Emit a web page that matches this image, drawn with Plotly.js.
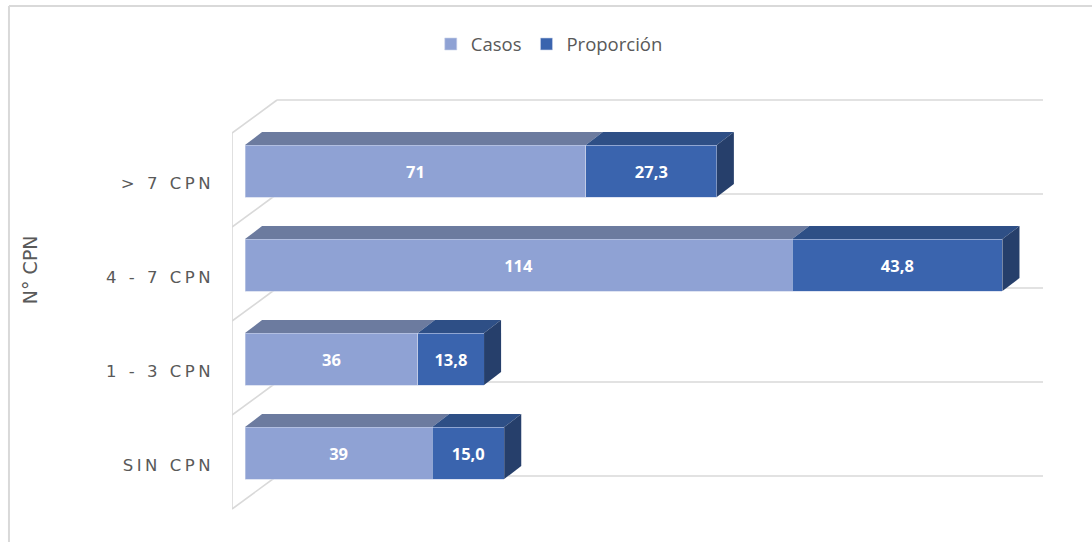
<!DOCTYPE html>
<html>
<head>
<meta charset="utf-8">
<script src="https://cdn.plot.ly/plotly-3.0.1.min.js"></script>
<style>
html,body{margin:0;padding:0;background:#fff;}
#chart{width:1092px;height:542px;}
.ytick text{letter-spacing:3.5px;}
</style>
</head>
<body>
<div id="chart"></div>
<script>
// ---- data (bottom-to-top order) ----
const categories = ["SIN CPN", "1 - 3 CPN", "4 - 7 CPN", "> 7 CPN"];
const casos = [39, 36, 114, 71];
const proporcion = [15.0, 13.8, 43.8, 27.3];
const seriesNames = ["Casos", "Proporción"];
const axisTitle = "N° CPN";

// ---- style constants ----
const colCasos = "#8FA2D4", colCasosTop = "#6C7B9F";
const colProp = "#3A64AE", colPropTop = "#2E4F86", colPropSide = "#263F6B";
const gridCol = "#D9D9D9";
const idx = categories.map((_, i) => i);

const barW = 0.553, barOff = -0.149;     // bar thickness / offset (y units)
const depthX = 3.55, depthY = 0.138;     // 3-D depth in axis units
const xMin = -2.71, xMax = 166.25;
const yMin = -0.585, yMax = 4.096;

const shapes = [];
function poly(pts, color) {
  const p = pts.map((q, k) => (k ? "L" : "M") + q[0] + "," + q[1]).join(" ") + " Z";
  shapes.push({type: "path", xref: "x", yref: "y", path: p, fillcolor: color,
               line: {width: 0}, layer: "above"});
}
function line(x0, y0, x1, y1) {
  shapes.push({type: "line", xref: "x", yref: "y", x0, y0, x1, y1,
               line: {color: gridCol, width: 1.6}, layer: "below"});
}

// 3-D walls / gridlines at category boundaries
const frontShift = 0.032, backShift = 0.383, backX = 6.67;
for (let k = 0; k <= categories.length; k++) {
  const yf = k - 0.5 + frontShift, yb = k - 0.5 + backShift;
  line(backX, yb, xMax, yb);
  line(xMin, yf, backX, yb);
}
line(xMin, -0.5 + frontShift, xMin, categories.length - 0.5 + frontShift);

// 3-D faces derived from the data
idx.forEach(i => {
  const yt = i + barOff + barW, yb = i + barOff;
  const c = casos[i], t = casos[i] + proporcion[i];
  poly([[0, yt], [c, yt], [c + depthX, yt + depthY], [depthX, yt + depthY]], colCasosTop);
  poly([[c, yt], [t, yt], [t + depthX, yt + depthY], [c + depthX, yt + depthY]], colPropTop);
  poly([[t, yt], [t, yb], [t + depthX, yb + depthY], [t + depthX, yt + depthY]], colPropSide);
});

// outer chart border (top/left)
shapes.push({type: "line", xref: "paper", yref: "paper", x0: -0.275, x1: 1.07, y0: 1.168, y1: 1.168,
             line: {color: gridCol, width: 2}});
shapes.push({type: "line", xref: "paper", yref: "paper", x0: -0.275, x1: -0.275, y0: 1.168, y1: -0.06,
             line: {color: gridCol, width: 2}});

const textFont = {family: "Open Sans, DejaVu Sans, sans-serif", size: 16.5, color: "#FFFFFF", weight: 700};

const traces = [
  {type: "bar", orientation: "h", name: seriesNames[0], x: casos, y: idx,
   width: barW, offset: barOff,
   marker: {color: colCasos, line: {color: "#C9D2EA", width: 0.6}},
   text: casos.map(v => String(v)), textposition: "inside", insidetextanchor: "middle",
   textfont: textFont, hoverinfo: "skip", cliponaxis: false},
  {type: "bar", orientation: "h", name: seriesNames[1], x: proporcion, y: idx,
   width: barW, offset: barOff,
   marker: {color: colProp, line: {color: "#C9D2EA", width: 0.6}},
   text: proporcion.map(v => v.toFixed(1).replace(".", ",")), textposition: "inside",
   insidetextanchor: "middle",
   textfont: textFont, hoverinfo: "skip", cliponaxis: false}
];

const layout = {
  width: 1092, height: 542,
  margin: {l: 232, r: 49, t: 80, b: 22},
  paper_bgcolor: "#FFFFFF", plot_bgcolor: "rgba(0,0,0,0)",
  barmode: "stack",
  showlegend: true,
  legend: {orientation: "h", xref: "container", yref: "container", x: 0.503, xanchor: "center",
           y: 0.918, yanchor: "middle",
           font: {family: "Open Sans, sans-serif", size: 18.5, color: "#595959"},
           traceorder: "normal", itemwidth: 30},
  xaxis: {range: [xMin, xMax], visible: false, showgrid: false, zeroline: false, fixedrange: true},
  yaxis: {range: [yMin, yMax], tickmode: "array", tickvals: idx, ticktext: categories,
          showgrid: false, zeroline: false, showline: false, ticks: "",
          ticklabelstandoff: 17,
          tickfont: {family: "DejaVu Sans, sans-serif", size: 16.5, color: "#595959"},
          fixedrange: true},
  annotations: [{text: axisTitle, textangle: -90, xref: "paper", yref: "paper",
                 x: -0.249, y: 0.568, xanchor: "center", yanchor: "middle", showarrow: false,
                 font: {family: "DejaVu Sans, sans-serif", size: 19, color: "#595959"}}],
  shapes: shapes
};

Plotly.newPlot("chart", traces, layout, {displayModeBar: false, staticPlot: true});
</script>
</body>
</html>
